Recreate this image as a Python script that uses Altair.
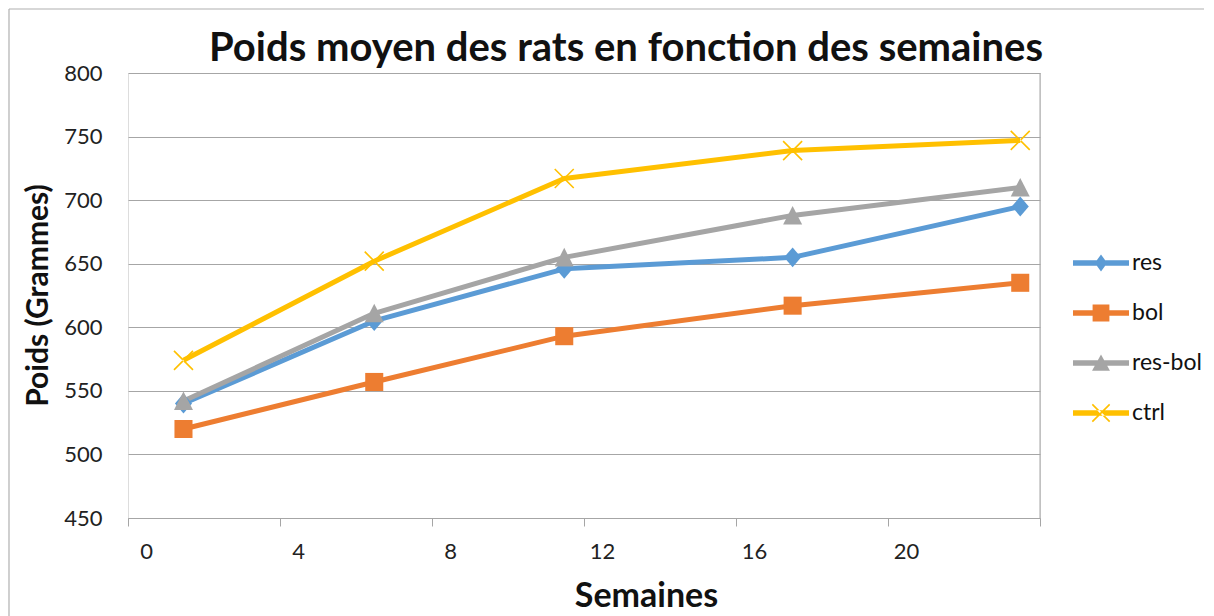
import altair as alt
import pandas as pd

# ---- data ----
weeks = [1.46, 6.48, 11.48, 17.49, 23.48]
res = [540, 605, 646, 655, 695]
bol = [520, 557, 593, 617, 635]
res_bol = [542, 611, 655, 688, 710]
ctrl = [574, 652, 717, 739, 747]

series_names = ["res", "bol", "res-bol", "ctrl"]
series_colors = ["#5B9BD5", "#ED7D31", "#A5A5A5", "#FFC000"]
y_ticks = [450, 500, 550, 600, 650, 700, 750, 800]
x_ticks = [0, 4, 8, 12, 16, 20, 24]
title_text = "Poids moyen des rats en fonction des semaines"

rows = []
for name, vals in zip(series_names, [res, bol, res_bol, ctrl]):
    for w, v in zip(weeks, vals):
        rows.append({"Semaines": w, "Poids": v, "serie": name})
df = pd.DataFrame(rows)

# marker shapes (data points)
point_shapes = [
    "M0,-1.05L0.9,0L0,1.05L-0.9,0Z",
    "M-0.95,-0.95H0.95V0.95H-0.95Z",
    "M0,-1L1,0.95H-1Z",
    "M-1.06,-0.94L0.94,1.06L1.06,0.94L-0.94,-1.06Z M-1.06,0.94L0.94,-1.06L1.06,-0.94L-0.94,1.06Z",
]
# legend symbols: line + marker
bar = "M-1,-0.1H1V0.1H-1Z "
legend_shapes = [
    bar + "M0,-0.3L0.22,0L0,0.3L-0.22,0Z",
    bar + "M-0.3,-0.3H0.3V0.3H-0.3Z",
    bar + "M0,-0.3L0.32,0.28H-0.32Z",
    bar + "M-0.33,-0.29L0.29,0.33L0.33,0.29L-0.29,-0.33Z M-0.33,0.29L0.29,-0.33L0.33,-0.29L-0.29,0.33Z",
]

FONT = "Lato"
GRID = "#a6a6a6"

x_scale = alt.Scale(domain=[0, 24], nice=False, zero=False)
y_scale = alt.Scale(domain=[450, 800], nice=False, zero=False)


def color_scale():
    return alt.Scale(domain=series_names, range=series_colors)


x_enc = alt.X(
    "Semaines:Q",
    scale=x_scale,
    axis=alt.Axis(
        values=x_ticks,
        labelExpr="datum.value == 24 ? '' : datum.label",
        labelFlush=False,
        grid=False,
        domainColor=GRID,
        tickColor=GRID,
        tickSize=8,
        labelOffset=18,
        labelPadding=15,
        labelFont=FONT,
        labelFontSize=22,
        labelColor="#222222",
        title="Semaines",
        titleFont=FONT,
        titleFontSize=34,
        titleFontWeight="bold",
        titleColor="#111111",
        titleX=518,
        titleY=88,
        titleBaseline="alphabetic",
    ),
)
y_enc = alt.Y(
    "Poids:Q",
    scale=y_scale,
    axis=alt.Axis(
        values=y_ticks,
        grid=True,
        gridColor=GRID,
        domain=False,
        ticks=False,
        labelPadding=26,
        labelFont=FONT,
        labelFontSize=22,
        labelColor="#222222",
        title="Poids (Grammes)",
        titleFont=FONT,
        titleFontSize=30,
        titleFontWeight="bold",
        titleColor="#111111",
        titleAngle=-90,
        titleX=-90,
        titleY=222,
        titleBaseline="middle",
        titleAlign="center",
    ),
)

base = alt.Chart(df)

lines = base.mark_line(strokeWidth=5, strokeJoin="round").encode(
    x=x_enc,
    y=y_enc,
    color=alt.Color("serie:N", scale=color_scale(), legend=None),
    order=alt.Order("Semaines:Q"),
)

points = base.mark_point(filled=True, opacity=1, size=361, strokeWidth=0).encode(
    x=x_enc,
    y=y_enc,
    color=alt.Color("serie:N", scale=color_scale(), legend=None),
    shape=alt.Shape(
        "serie:N", scale=alt.Scale(domain=series_names, range=point_shapes), legend=None
    ),
)

leg = dict(
    title=None,
    orient="none",
    legendX=945,
    legendY=162,
    symbolSize=3136,
    symbolStrokeWidth=0,
    labelFont=FONT,
    labelFontSize=23,
    labelColor="#111111",
    labelOffset=3,
    rowPadding=10,
)

legend_layer = base.mark_point(
    filled=True, opacity=1, size=3136, strokeWidth=0, clip=True
).encode(
    x=x_enc,
    y=alt.value(-5000),
    color=alt.Color("serie:N", scale=color_scale(), legend=alt.Legend(**leg)),
    shape=alt.Shape(
        "serie:N",
        scale=alt.Scale(domain=series_names, range=legend_shapes),
        legend=alt.Legend(**leg),
    ),
)

one = pd.DataFrame({"a": [0]})
right_axis = alt.Chart(one).mark_rule(color=GRID, strokeWidth=1).encode(
    x=alt.datum(24, scale=x_scale),
    y=alt.datum(800, scale=y_scale),
    y2=alt.datum(450),
)

title_mark = alt.Chart(one).mark_text(
    text=title_text,
    font=FONT,
    fontSize=40,
    fontWeight="bold",
    color="#111111",
    align="center",
    baseline="alphabetic",
).encode(x=alt.value(498), y=alt.value(-12))

BORDER = "#b0b0b0"
border_left = alt.Chart(one).mark_rule(color=BORDER, strokeWidth=1.2).encode(
    x=alt.value(-119), y=alt.value(-64), y2=alt.value(560)
)
border_top = alt.Chart(one).mark_rule(color=BORDER, strokeWidth=1.2).encode(
    x=alt.value(-119), x2=alt.value(1076), y=alt.value(-64)
)

chart = (
    alt.layer(
        border_left, border_top, right_axis, title_mark, lines, points, legend_layer
    )
    .resolve_scale(shape="independent", color="independent")
    .properties(width=912, height=445, padding=0)
    .configure_view(strokeWidth=0)
    .configure(background="white")
)

chart.save("out.html", embed_options={"renderer": "svg", "actions": False})
